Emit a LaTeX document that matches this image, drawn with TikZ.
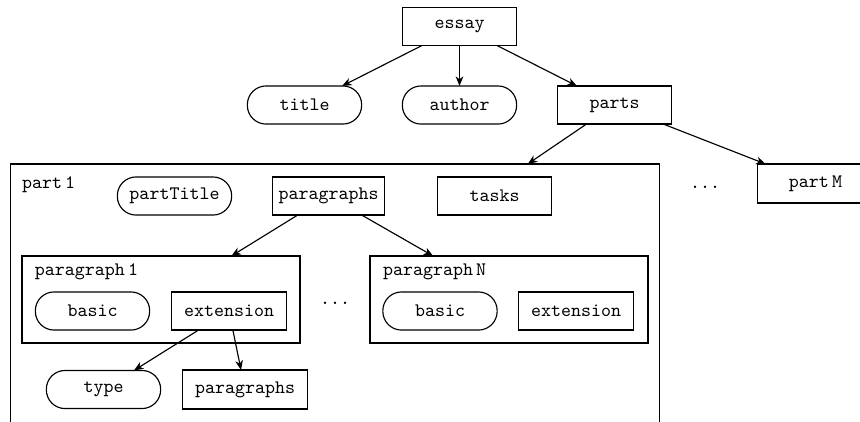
\documentclass[tikz,border=0pt]{standalone}
\usepackage{tikz}
\usetikzlibrary{arrows.meta}

\begin{document}
\begin{tikzpicture}[x=0.525pt, y=-0.525pt, font=\ttfamily, line width=0.6pt,
  every node/.style={outer sep=0pt},
  box/.style={draw, minimum width=60pt, minimum height=20pt, inner sep=2pt},
  pill/.style={draw, rounded corners=9.8pt, minimum width=60pt, minimum height=20pt, inner sep=2pt},
  frame/.style={draw, inner sep=0pt},
  tag/.style={anchor=west, inner sep=0pt},
  edge/.style={-{Stealth[length=5pt,width=4pt,inset=1.5pt]}}]
\clip (0,0) rectangle (860,421);

\node[box] (essay) at (459.5,26.5) {essay};
\node[pill] (title) at (304.5,105) {title};
\node[pill] (author) at (459.5,105) {author};
\node[box] (parts) at (614.5,105) {parts};

\node[frame, minimum width=341pt, minimum height=137.6pt] (part1) at (335,295) {};
\node[tag] (part1tag) at (22,185) {part\,1};
\node[box, minimum width=60.5pt, minimum height=20.5pt] (partM) at (815.5,183.5) {part\,M};
\node (dotsM) at (705,187) {...};

\node[pill] (partTitle) at (174.5,196) {partTitle};
\node[box, minimum width=59pt] (paragraphs) at (328.5,196) {paragraphs};
\node[box] (tasks) at (494.5,196) {tasks};

\node[frame, minimum width=146pt, minimum height=45.7pt] (para1) at (161,299.5) {};
\node[tag] (para1tag) at (35,272) {paragraph\,1};
\node[pill] (basic1) at (92.5,311) {basic};
\node[box] (ext1) at (229,311) {extension};

\node (dotsN) at (335,303) {...};

\node[frame, minimum width=146pt, minimum height=45.7pt] (paraN) at (509,299.5) {};
\node[tag] (paraNtag) at (383,272) {paragraph\,N};
\node[pill] (basicN) at (440,311) {basic};
\node[box] (extN) at (576,311) {extension};

\node[pill] (type) at (103.5,389.5) {type};
\node[box, minimum width=66pt, minimum height=20.5pt] (subparas) at (245,389.5) {paragraphs};

\draw[edge] (essay) -- (title);
\draw[edge] (essay) -- (author);
\draw[edge] (essay) -- (parts);
\draw[edge] (parts) -- (part1);
\draw[edge] (parts) -- (partM);
\draw[edge] (paragraphs) -- (para1);
\draw[edge] (paragraphs) -- (paraN);
\draw[edge] (ext1) -- (type);
\draw[edge] (ext1) -- (subparas);
\end{tikzpicture}
\end{document}
